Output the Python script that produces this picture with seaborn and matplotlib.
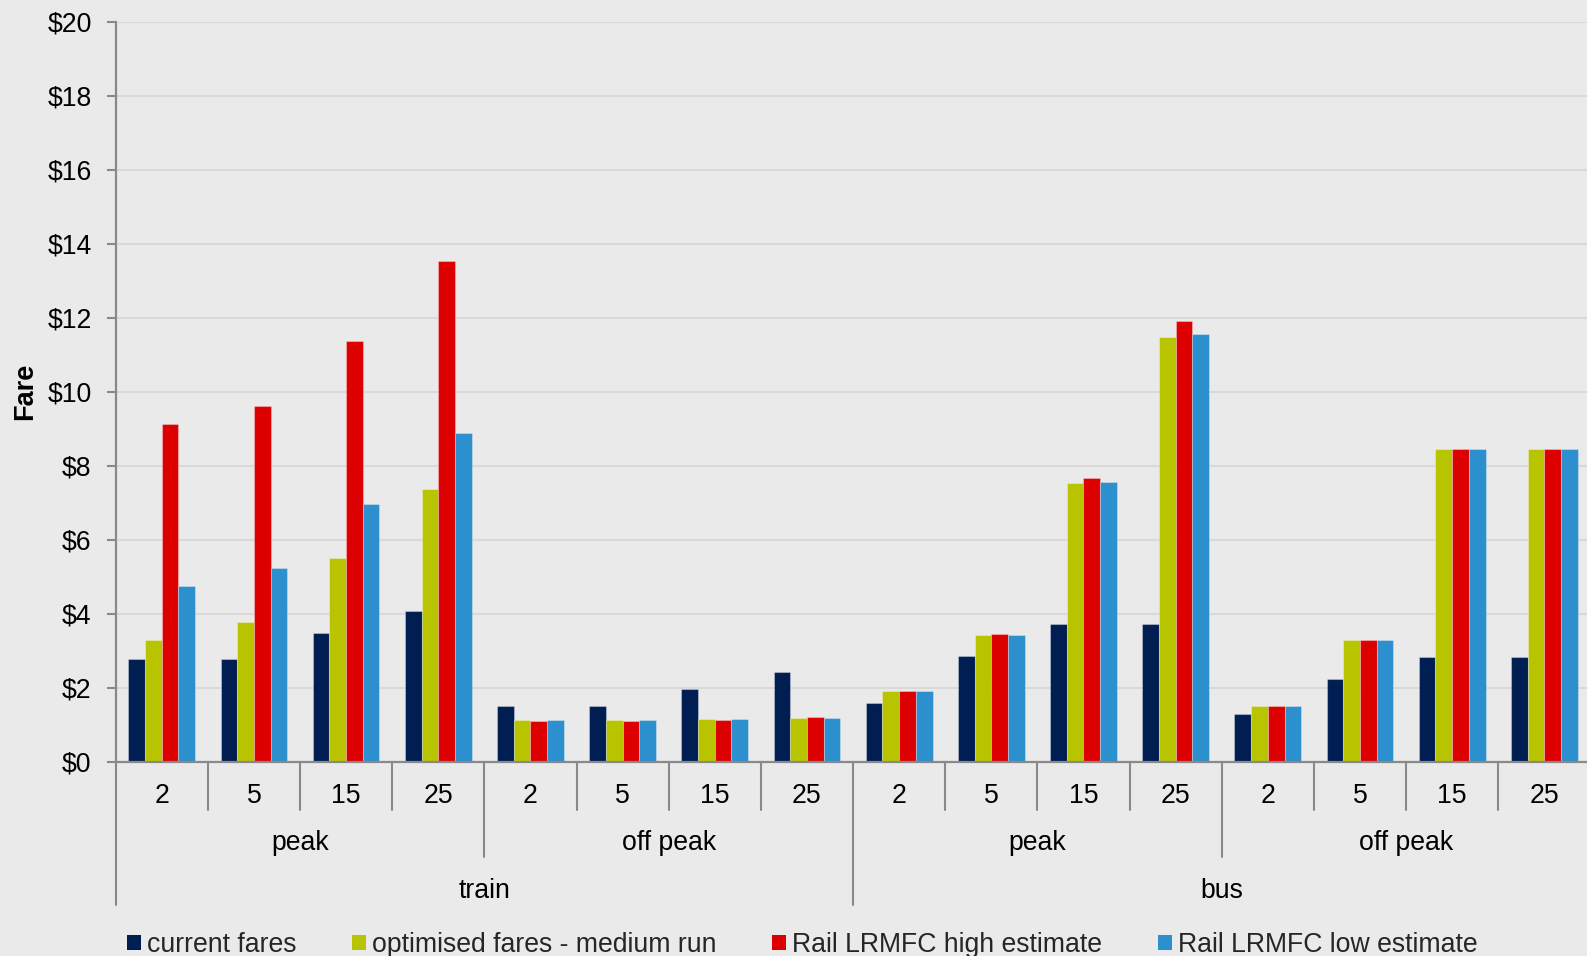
import numpy as np
import pandas as pd
import matplotlib
matplotlib.use("Agg")
import matplotlib.pyplot as plt
import seaborn as sns
from matplotlib.patches import Patch
from matplotlib.lines import Line2D
from matplotlib.transforms import blended_transform_factory

# ---- data -------------------------------------------------------------
modes = ["train"] * 8 + ["bus"] * 8
periods = (["peak"] * 4 + ["off peak"] * 4) * 2
distances = ["2", "5", "15", "25"] * 4

current_fares = [2.78, 2.77, 3.49, 4.06, 1.50, 1.50, 1.97, 2.43,
                 1.60, 2.87, 3.71, 3.71, 1.30, 2.24, 2.84, 2.84]
optimised_fares = [3.30, 3.78, 5.51, 7.37, 1.14, 1.14, 1.16, 1.17,
                   1.92, 3.42, 7.53, 11.48, 1.51, 3.28, 8.45, 8.45]
lrmfc_high = [9.13, 9.61, 11.36, 13.53, 1.10, 1.10, 1.13, 1.22,
              1.91, 3.45, 7.67, 11.92, 1.51, 3.29, 8.45, 8.45]
lrmfc_low = [4.75, 5.23, 6.96, 8.89, 1.14, 1.13, 1.16, 1.18,
             1.92, 3.42, 7.55, 11.56, 1.51, 3.28, 8.45, 8.45]

series_names = ["current fares", "optimised fares - medium run",
                "Rail LRMFC high estimate", "Rail LRMFC low estimate"]
series_values = [current_fares, optimised_fares, lrmfc_high, lrmfc_low]
series_colors = ["#001E52", "#B8C400", "#DD0000", "#2C8FCE"]

y_ticks = list(range(0, 21, 2))

# ---- long-form table ----------------------------------------------------
slots = [f"{m}|{p}|{d}" for m, p, d in zip(modes, periods, distances)]
rows = []
for name, vals in zip(series_names, series_values):
    for slot, v in zip(slots, vals):
        rows.append({"slot": slot, "series": name, "fare": v})
df = pd.DataFrame(rows)

# ---- style --------------------------------------------------------------
sns.set_style("white")
plt.rcParams["font.family"] = ["Liberation Sans", "DejaVu Sans"]
bg = "#EAEAEA"
axis_grey = "#898989"
fs = 19.2
em = fs * 100 / 72  # font size in pixels

W, H = 1587, 956
fig = plt.figure(figsize=(W / 100, H / 100), dpi=100)
fig.patch.set_facecolor(bg)
ax_left, ax_bottom, ax_top = 115.7, 761.7, 21.7
ax = fig.add_axes([ax_left / W, 1 - ax_bottom / H,
                   1 - ax_left / W, (ax_bottom - ax_top) / H])
ax.set_facecolor(bg)

sns.barplot(data=df, x="slot", y="fare", hue="series", order=slots,
            hue_order=series_names, palette=series_colors, width=0.724,
            saturation=1, errorbar=None, legend=False, ax=ax,
            edgecolor=(1, 1, 1, 0.3), linewidth=0.8)

ax.set_xlim(-0.5, -0.5 + (W - ax_left) / 92.17)
ax.set_ylim(0, 20)
ax.set_yticks(y_ticks)
ax.set_yticklabels([f"${v}" for v in y_ticks], fontsize=fs, color="black")
ax.yaxis.grid(True, color="#D9D9D9", linewidth=1.5)
ax.xaxis.grid(False)
ax.set_axisbelow(True)
ax.set_xticks([])
ax.set_xlabel("")

for side in ("top", "right"):
    ax.spines[side].set_visible(False)
for side in ("left", "bottom"):
    ax.spines[side].set_color(axis_grey)
    ax.spines[side].set_linewidth(1.6)
ax.tick_params(axis="y", left=True, length=6.3, width=1.5,
               color=axis_grey, pad=11)

ax.set_ylabel("Fare", fontsize=19.5, fontweight="bold", color="black")
ax.yaxis.set_label_coords((25 - ax_left) / (W - ax_left), 0.5)
ax.yaxis.label.set_va("center")

# ---- multi-level category axis ----------------------------------------
ax_h = ax_bottom - ax_top
to_axes = lambda ypix: (ax_bottom - ypix) / ax_h
trans = blended_transform_factory(ax.transData, ax.transAxes)

n = len(slots)
for b in range(n + 1):
    x = b - 0.5
    if b % 8 == 0:
        depth = to_axes(905)
    elif b % 4 == 0:
        depth = to_axes(857)
    else:
        depth = to_axes(810)
    ax.add_line(Line2D([x, x], [0, depth], transform=trans, clip_on=False,
                       color=axis_grey, linewidth=1.5))

for i, d in enumerate(distances):
    ax.text(i, to_axes(803.3), d, transform=trans, ha="center",
            va="baseline", fontsize=fs, color="black")

for g in range(0, n, 4):
    ax.text(g + 1.5, to_axes(850), periods[g], transform=trans,
            ha="center", va="baseline", fontsize=fs, color="black")

for g in range(0, n, 8):
    ax.text(g + 3.5, to_axes(898.3), modes[g], transform=trans,
            ha="center", va="baseline", fontsize=fs, color="black")

# ---- legend -------------------------------------------------------------
handles = [Patch(facecolor=c, edgecolor="none", label=nm)
           for nm, c in zip(series_names, series_colors)]
ax.legend(handles=handles, ncol=4, loc="center left",
          bbox_to_anchor=(127 / W, (H - 945) / H),
          bbox_transform=fig.transFigure, frameon=False, fontsize=fs,
          handlelength=14 / em, handleheight=14 / em,
          handletextpad=6 / em, columnspacing=55.5 / em,
          borderpad=0, borderaxespad=0)

fig.savefig("out.png", dpi=100, facecolor=bg)
